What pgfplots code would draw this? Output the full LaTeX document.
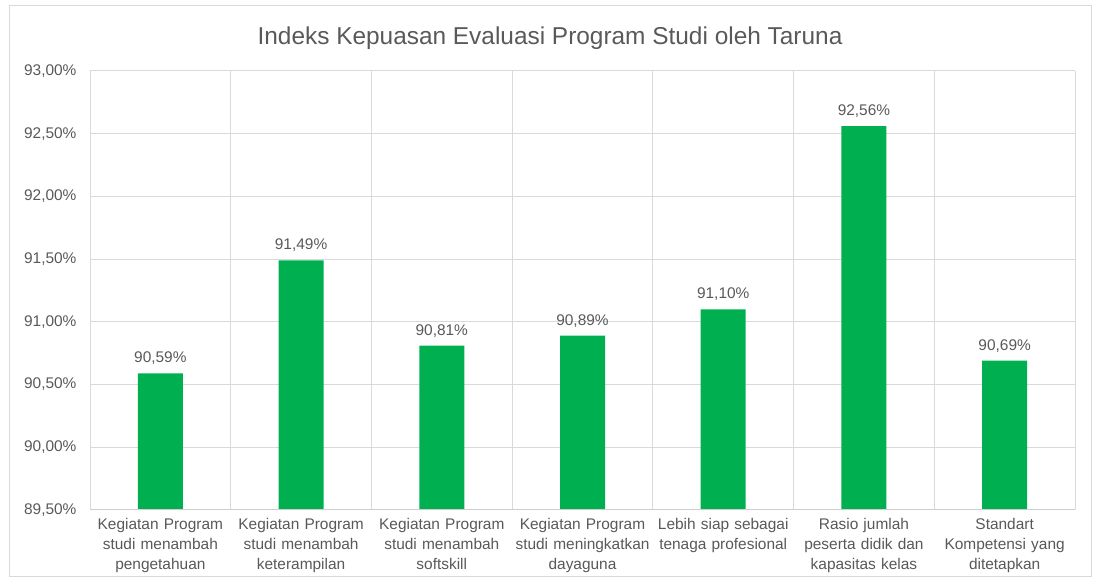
\documentclass[border=0pt]{standalone}
\usepackage{pgfplots}
\pgfplotsset{compat=1.18}
\usepackage{fontspec}
\setmainfont{Liberation Sans}
\definecolor{bargreen}{HTML}{00B050}
\definecolor{txtgrey}{HTML}{595959}
\definecolor{gridgrey}{HTML}{D9D9D9}
\begin{document}
\begin{tikzpicture}[x=1bp,y=1bp]
\useasboundingbox (0,0) rectangle (1097,580);
\draw[gridgrey,line width=1bp] (9,3) rectangle (1091,574);
\node[txtgrey,font=\fontsize{24.5}{28}\selectfont] at (550,542) {Indeks Kepuasan Evaluasi Program Studi oleh Taruna};
\begin{axis}[
  at={(90bp,70bp)}, anchor=south west,
  width=985bp, height=439bp, scale only axis,
  xmin=-0.5, xmax=6.5, ymin=89.5, ymax=93,
  ytick={89.5,90,90.5,91,91.5,92,92.5,93},
  xtick={0,...,6},
  xticklabels={{Kegiatan Program\\studi menambah\\pengetahuan},
               {Kegiatan Program\\studi menambah\\keterampilan},
               {Kegiatan Program\\studi menambah\\softskill},
               {Kegiatan Program\\studi meningkatkan\\dayaguna},
               {Lebih siap sebagai\\tenaga profesional},
               {Rasio jumlah\\peserta didik dan\\kapasitas kelas},
               {Standart\\Kompetensi yang\\ditetapkan}},
  minor xtick={-0.5,0.5,...,6.5},
  xminorgrids=true, ymajorgrids=true,
  grid style={gridgrey, line width=1bp},
  minor grid style={gridgrey, line width=1bp},
  major tick length=0pt, minor tick length=0pt,
  axis line style={draw=none},
  /pgf/number format/assume math mode=true,
  yticklabel={\pgfmathprintnumber[fixed,fixed zerofill,precision=2,use comma]{\tick}\%},
  yticklabel style={txtgrey, font=\fontsize{15.5}{18}\selectfont, xshift=-10bp},
  xticklabel style={txtgrey, font=\fontsize{15.5}{20}\selectfont, align=center, text width=145bp, anchor=north, yshift=-5bp},
  ybar, bar width=45bp,
  nodes near coords={\pgfmathprintnumber[fixed,fixed zerofill,precision=2,use comma]{\pgfplotspointmeta}\%},
  nodes near coords style={txtgrey, font=\fontsize{15.5}{18}\selectfont, yshift=5bp},
  clip=false,
]
\addplot[fill=bargreen, draw=none] coordinates {(0,90.59) (1,91.49) (2,90.81) (3,90.89) (4,91.10) (5,92.56) (6,90.69)};
\draw[gridgrey!80!black!60, line width=1bp] (axis cs:-0.5,89.5) -- (axis cs:6.5,89.5);
\end{axis}
\end{tikzpicture}
\end{document}
